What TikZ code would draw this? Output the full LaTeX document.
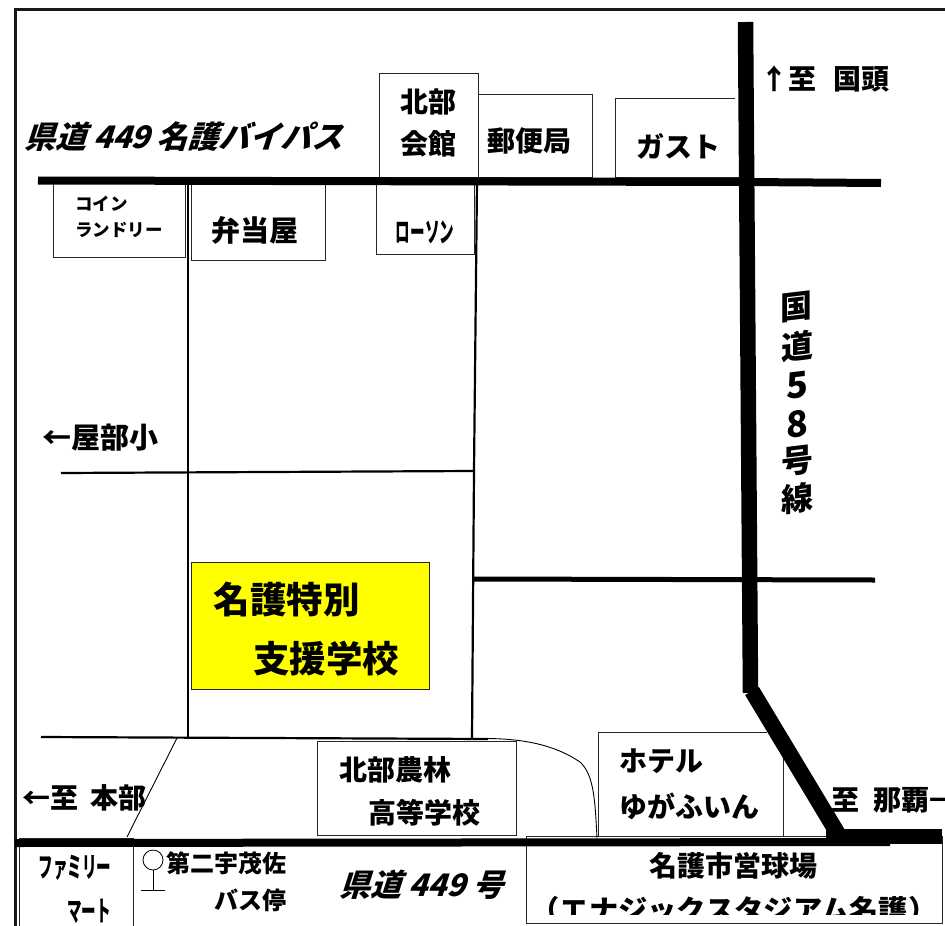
\documentclass[tikz,border=0pt]{standalone}
\usepackage{fontspec}
\setmainfont{Noto Sans CJK JP}
\definecolor{mapyellow}{RGB}{255,255,0}
\tikzset{
  x=1pt,y=-1pt,
  frameline/.style={line width=3pt,draw=black!90},
  thinroad/.style={line width=2.2pt,draw=black},
  hairroad/.style={line width=0.9pt,draw=black},
  midroad/.style={line width=5pt,draw=black},
  wideroad/.style={line width=8pt,draw=black},
  mainroad/.style={line width=15.5pt,draw=black},
  bldg/.style={draw=black!85,line width=0.9pt,fill=white},
  lbl/.style={inner sep=0pt,outer sep=0pt,font=\bfseries\fontsize{28}{32}\selectfont,anchor=center},
  lblbig/.style={lbl,font=\bfseries\fontsize{36.5}{40}\selectfont},
  lblbus/.style={lbl,font=\bfseries\fontsize{24}{28}\selectfont},
  lbls/.style={lbl,font=\bfseries\fontsize{17.5}{20}\selectfont},
  lblit/.style={lbl,font=\bfseries\fontsize{31}{36}\selectfont,xslant=0.32},
  lblv/.style={lbl,font=\bfseries\fontsize{32}{36}\selectfont,yslant=0.12},
  lblvd/.style={lbl,font=\bfseries\fontsize{36}{40}\selectfont,yslant=0.12},
}
\begin{document}
\begin{tikzpicture}
\useasboundingbox (0,0) rectangle (945,926);
\fill[white] (0,0) rectangle (945,926);
% frame
\draw[frameline] (15,926) -- (15,9.5) -- (945,9.5);
% buildings
\draw[bldg] (379,73) rectangle (478,177);
\draw[bldg] (478,94) rectangle (592,177);
\draw[bldg] (735,98) -- (615,98) -- (615,177) -- (740,177);
\draw[bldg] (53,182) rectangle (185,257);
\draw[bldg] (191,182) rectangle (325,260);
\draw[bldg] (376,184) rectangle (474,254);
\draw[bldg,fill=mapyellow] (191,562) rectangle (429,689);
\draw[bldg] (317,741) rectangle (516,835);
\draw[bldg] (767,732) -- (598,732) -- (598,836) -- (829,836);
\draw[bldg] (783,755) -- (783,836);
\draw[bldg] (526,836) rectangle (942,923);
\draw[bldg] (19,926) -- (19,838) -- (133,838) -- (133,926);
% roads
\draw[thinroad] (188,181) -- (188,737);
\draw[thinroad] (477,181) -- (474,471) -- (472,738);
\draw[thinroad] (61,473) -- (474,471);
\draw[midroad] (474,579) -- (875,580);
\draw[thinroad] (41,737) -- (488,739);
\draw[hairroad] (177,738) -- (127,837);
\draw[hairroad] (488,738.5) .. controls (540,739) and (565,752) .. (580,762) .. controls (594,775) and (595,800) .. (597,838);
\draw[wideroad] (38,180.5) -- (745,182) -- (881,183);
\draw[wideroad] (15,843) -- (890,842);
\draw[mainroad] (745.5,22) -- (750.5,693);
\draw[line width=16pt,draw=black] (752,691) -- (838,834);
\draw[line width=15pt,draw=black] (826,836.5) -- (942,836.5);
% bus stop
\node[circle,draw=black,line width=0.8pt,inner sep=0pt,minimum size=20pt,fill=white] (busstop) at (153,860) {};
\coordinate (busfoot) at (153,890);
\coordinate (busl) at (141,890);
\coordinate (busr) at (165,890);
\draw[hairroad] (busstop.south) -- (busfoot);
\draw[hairroad] (busl) -- (busr);
% labels
\node[lblit] (l1) at (187,137) {県道 449 名護バイパス};
\node[lblit] (l2) at (425,885) {県道 449 号};
\node[lbl] (kita1) at (428,102) {北部};
\node[lbl] (kita2) at (428,144) {会館};
\node[lbl] (yubin) at (529,141) {郵便局};
\node[lbl] (gusto) at (678,146) {ガスト};
\node[lbl] (kuni) at (825,79) {↑至\hspace{18pt}国頭};
\node[lbls] (coin1) at (101.5,204) {コイン};
\node[lbls] (coin2) at (119,230) {ランドリー};
\node[lbl,font=\bfseries\fontsize{29}{32}\selectfont] (bento) at (255,230) {弁当屋};
\node[lbl,xscale=0.52] (lawson) at (425,232) {ローソン};
\node[lbl,font=\bfseries\fontsize{29}{32}\selectfont] (yabu) at (100,438) {←屋部小};
\node[lblbig] (school1) at (286.5,600) {名護特別};
\node[lblbig] (school2) at (326,659) {支援学校};
\node[lbl] (honbu) at (85,798) {←至\hspace{12pt}本部};
\node[lbl] (nourin1) at (395,770) {北部農林};
\node[lbl] (nourin2) at (424,813) {高等学校};
\node[lbl,anchor=west] (hotel1) at (619,761) {ホテル};
\node[lbl,anchor=west] (hotel2) at (619,806) {ゆがふいん};
\node[lbl,anchor=west] (naha) at (831,800) {至\hspace{14pt}那覇→};
\node[lbl,xscale=0.52] (fami1) at (75,868) {ファミリー};
\node[lbl,xscale=0.52] (fami2) at (89,911) {マート};
\node[lblbus] (bus1) at (226,863) {第二宇茂佐};
\node[lblbus] (bus2) at (250,900) {バス停};
\node[lbl] (stadium1) at (733,866) {名護市営球場};
\begin{scope}
\clip (527,880) rectangle (941,914);
\node[lbl,xscale=1.045] (stadium2) at (734,910) {（エナジックスタジアム名護）};
\end{scope}
\node[lblv] (r1) at (796,307) {国};
\node[lblv] (r2) at (797,346) {道};
\node[lblvd] (r3) at (797,385) {5};
\node[lblvd] (r4) at (797,424) {8};
\node[lblv] (r5) at (797,461) {号};
\node[lblv] (r6) at (797,498) {線};
\end{tikzpicture}
\end{document}
